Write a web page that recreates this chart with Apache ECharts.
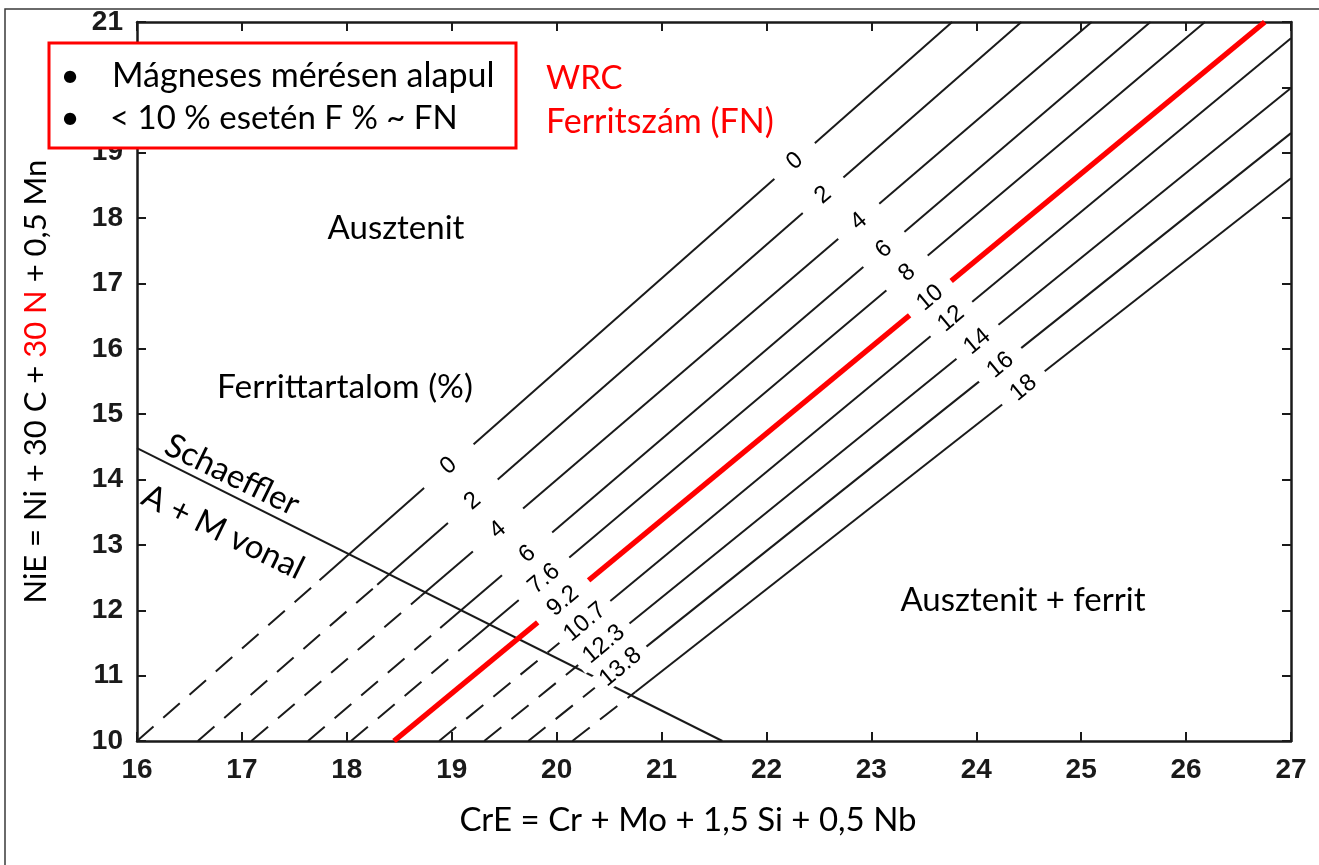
<!DOCTYPE html>
<html>
<head>
<meta charset="utf-8">
<script src="https://cdn.jsdelivr.net/npm/echarts@6/dist/echarts.min.js"></script>
<style>
html,body{margin:0;padding:0;background:#fff;}
#c{width:1319px;height:865px;}
</style>
</head>
<body>
<div id="c"></div>
<script>
// ---- data ----
const fnLabels = ['0','2','4','6','8','10','12','14','16','18'];
const pctLabels = ['0','2','4','6','7.6','9.2','10.7','12.3','13.8'];
// iso-ferrite lines: start (NiE = 10), end of dashed part, end (top / right border)
const lineStart = [[16.0,10],[16.58,10],[17.09,10],[17.63,10],[18.04,10],[18.45,10],[18.88,10],[19.31,10],[19.73,10],[20.15,10]];
const lineDashEnd = [[17.74,12.46],[18.29,12.39],[18.70,12.21],[18.89,11.73],[19.19,11.55],null,[20.27,11.82],[20.45,11.48],[20.61,11.13],[20.75,10.75]];
const lineEnd = [[23.77,21],[24.43,21],[25.10,21],[25.66,21],[26.18,21],[26.75,21],[27,20.75],[27,19.99],[27,19.30],[27,18.61]];
// label anchors on the lines
const fnLabelPos = [[22.27,18.87],[22.54,18.35],[22.88,17.95],[23.12,17.52],[23.34,17.16],[23.56,16.78],[23.76,16.46],[24.01,16.11],[24.23,15.75],[24.45,15.40]];
const pctLabelPos = [[18.97,14.21],[19.20,13.67],[19.44,13.23],[19.72,12.86],[19.88,12.48],[20.06,12.14],[20.27,11.82],[20.45,11.48],[20.61,11.13]];
// Schaeffler A + M boundary
const schaefflerLine = [[16,14.48],[21.58,10]];
const highlightIndex = 5; // FN 10 line drawn in red

const xMin = 16, xMax = 27, yMin = 10, yMax = 21;

// ---- styles ----
const INK = '#1a1a1a';
const RED = '#ff0000';
const TXT = 'Lato';
const NUM = 'Liberation Sans, Arial, sans-serif';

const series = [];
for (let i = 0; i < lineStart.length; i++) {
  if (i === highlightIndex) {
    series.push({type:'line', data:[lineStart[i], lineEnd[i]], symbol:'none', silent:true, z:3,
      lineStyle:{color:RED, width:5.5, opacity:1}});
    continue;
  }
  if (lineDashEnd[i]) {
    series.push({type:'line', data:[lineStart[i], lineDashEnd[i]], symbol:'none', silent:true, z:2,
      lineStyle:{color:INK, width:2, type:[22,13], opacity:1}});
    series.push({type:'line', data:[lineDashEnd[i], lineEnd[i]], symbol:'none', silent:true, z:2,
      lineStyle:{color:INK, width:2, opacity:1}});
  } else {
    series.push({type:'line', data:[lineStart[i], lineEnd[i]], symbol:'none', silent:true, z:2,
      lineStyle:{color:INK, width:2, opacity:1}});
  }
}
series.push({type:'line', data:schaefflerLine, symbol:'none', silent:true, z:2,
  lineStyle:{color:INK, width:2, opacity:1}});

function labelSeries(pos, names, boxW) {
  return {
    type:'scatter', symbolSize:0, silent:true, z:6,
    itemStyle:{opacity:1},
    data: pos.map((p,i)=>({value:p, name:names[i]})),
    label:{show:true, position:'inside', formatter:'{b}', rotate:40, opacity:1,
      fontFamily:NUM, fontSize:24, color:'#000',
      backgroundColor:'#ffffff', width:boxW, align:'center', lineHeight:22},
    emphasis:{disabled:true}
  };
}
series.push(labelSeries(fnLabelPos, fnLabels, 54));
series.push(labelSeries(pctLabelPos, pctLabels, 66));

const axisCommon = {
  type:'value', splitLine:{show:false},
  axisLine:{show:true, onZero:false, lineStyle:{color:INK, width:2.5}},
  axisTick:{show:true, inside:true, length:9, lineStyle:{color:INK, width:2}}
};

const graphic = [
  {type:'rect', silent:true, z:0, shape:{x:5,y:9,width:1400,height:1000},
    style:{fill:'none', stroke:'#3a3a3a', lineWidth:1.5}},
  {type:'rect', silent:true, z:100, shape:{x:49,y:43,width:467,height:105},
    style:{fill:'#fff', stroke:RED, lineWidth:3}},
];
function txt(x, y, text, opts) {
  opts = opts || {};
  graphic.push({type:'text', silent:true, z:101, x:x, y:y, rotation:opts.rot || 0,
    style:{text:text, fontFamily:TXT, fontSize:opts.size || 33, fill:opts.color || '#000',
      align:opts.align || 'left', textAlign:opts.align || 'left',
      verticalAlign:'middle', textVerticalAlign:'middle'}});
}
txt(70, 76, '•', {align:'center'});
txt(70, 118, '•', {align:'center'});
txt(112, 76, 'Mágneses mérésen alapul', {size:34});
txt(110, 118, '< 10 % esetén F % ~ FN');
txt(546, 78, 'WRC', {color:RED});
txt(546, 122, 'Ferritszám (FN)', {color:RED, size:34});
txt(396, 228, 'Ausztenit', {align:'center'});
txt(345, 387, 'Ferrittartalom (%)', {align:'center', size:33.5});
txt(1023, 600, 'Ausztenit + ferrit', {align:'center'});
txt(232, 475, 'Schaeffler', {align:'center', rot:-26*Math.PI/180});
txt(223, 532, 'A + M vonal', {align:'center', rot:-26*Math.PI/180});
txt(688, 820, 'CrE = Cr + Mo + 1,5 Si + 0,5 Nb', {align:'center'});

const tickLabel = {show:true, fontFamily:NUM, fontSize:28, fontWeight:'bold', color:'#1a1a1a'};

const option = {
  animation:false,
  backgroundColor:'#fff',
  textStyle:{fontFamily:NUM},
  grid:{left:137, right:28, top:22, bottom:124, containLabel:false, outerBoundsMode:'none'},
  xAxis:[
    Object.assign({}, axisCommon, {min:xMin, max:xMax, interval:1, position:'bottom',
      axisLabel:Object.assign({}, tickLabel, {margin:15})}),
    Object.assign({}, axisCommon, {min:xMin, max:xMax, interval:1, position:'top',
      axisLabel:{show:false}})
  ],
  yAxis:[
    Object.assign({}, axisCommon, {min:yMin, max:yMax, interval:1, position:'left',
      axisLabel:Object.assign({}, tickLabel, {margin:14}),
      name:'{a|NiE = Ni + 30 C + }{r|30 N}{a| + 0,5 Mn}', nameLocation:'middle', nameRotate:90, nameGap:86,
      nameTextStyle:{rich:{a:{fontFamily:TXT, fontSize:31, color:'#000'}, r:{fontFamily:TXT, fontSize:31, color:RED}}}}),
    Object.assign({}, axisCommon, {min:yMin, max:yMax, interval:1, position:'right',
      axisLabel:{show:false}})
  ],
  graphic: graphic,
  series: series
};
const chart = echarts.init(document.getElementById('c'), null, {renderer:'canvas'});
chart.setOption(option);
</script>
</body>
</html>
